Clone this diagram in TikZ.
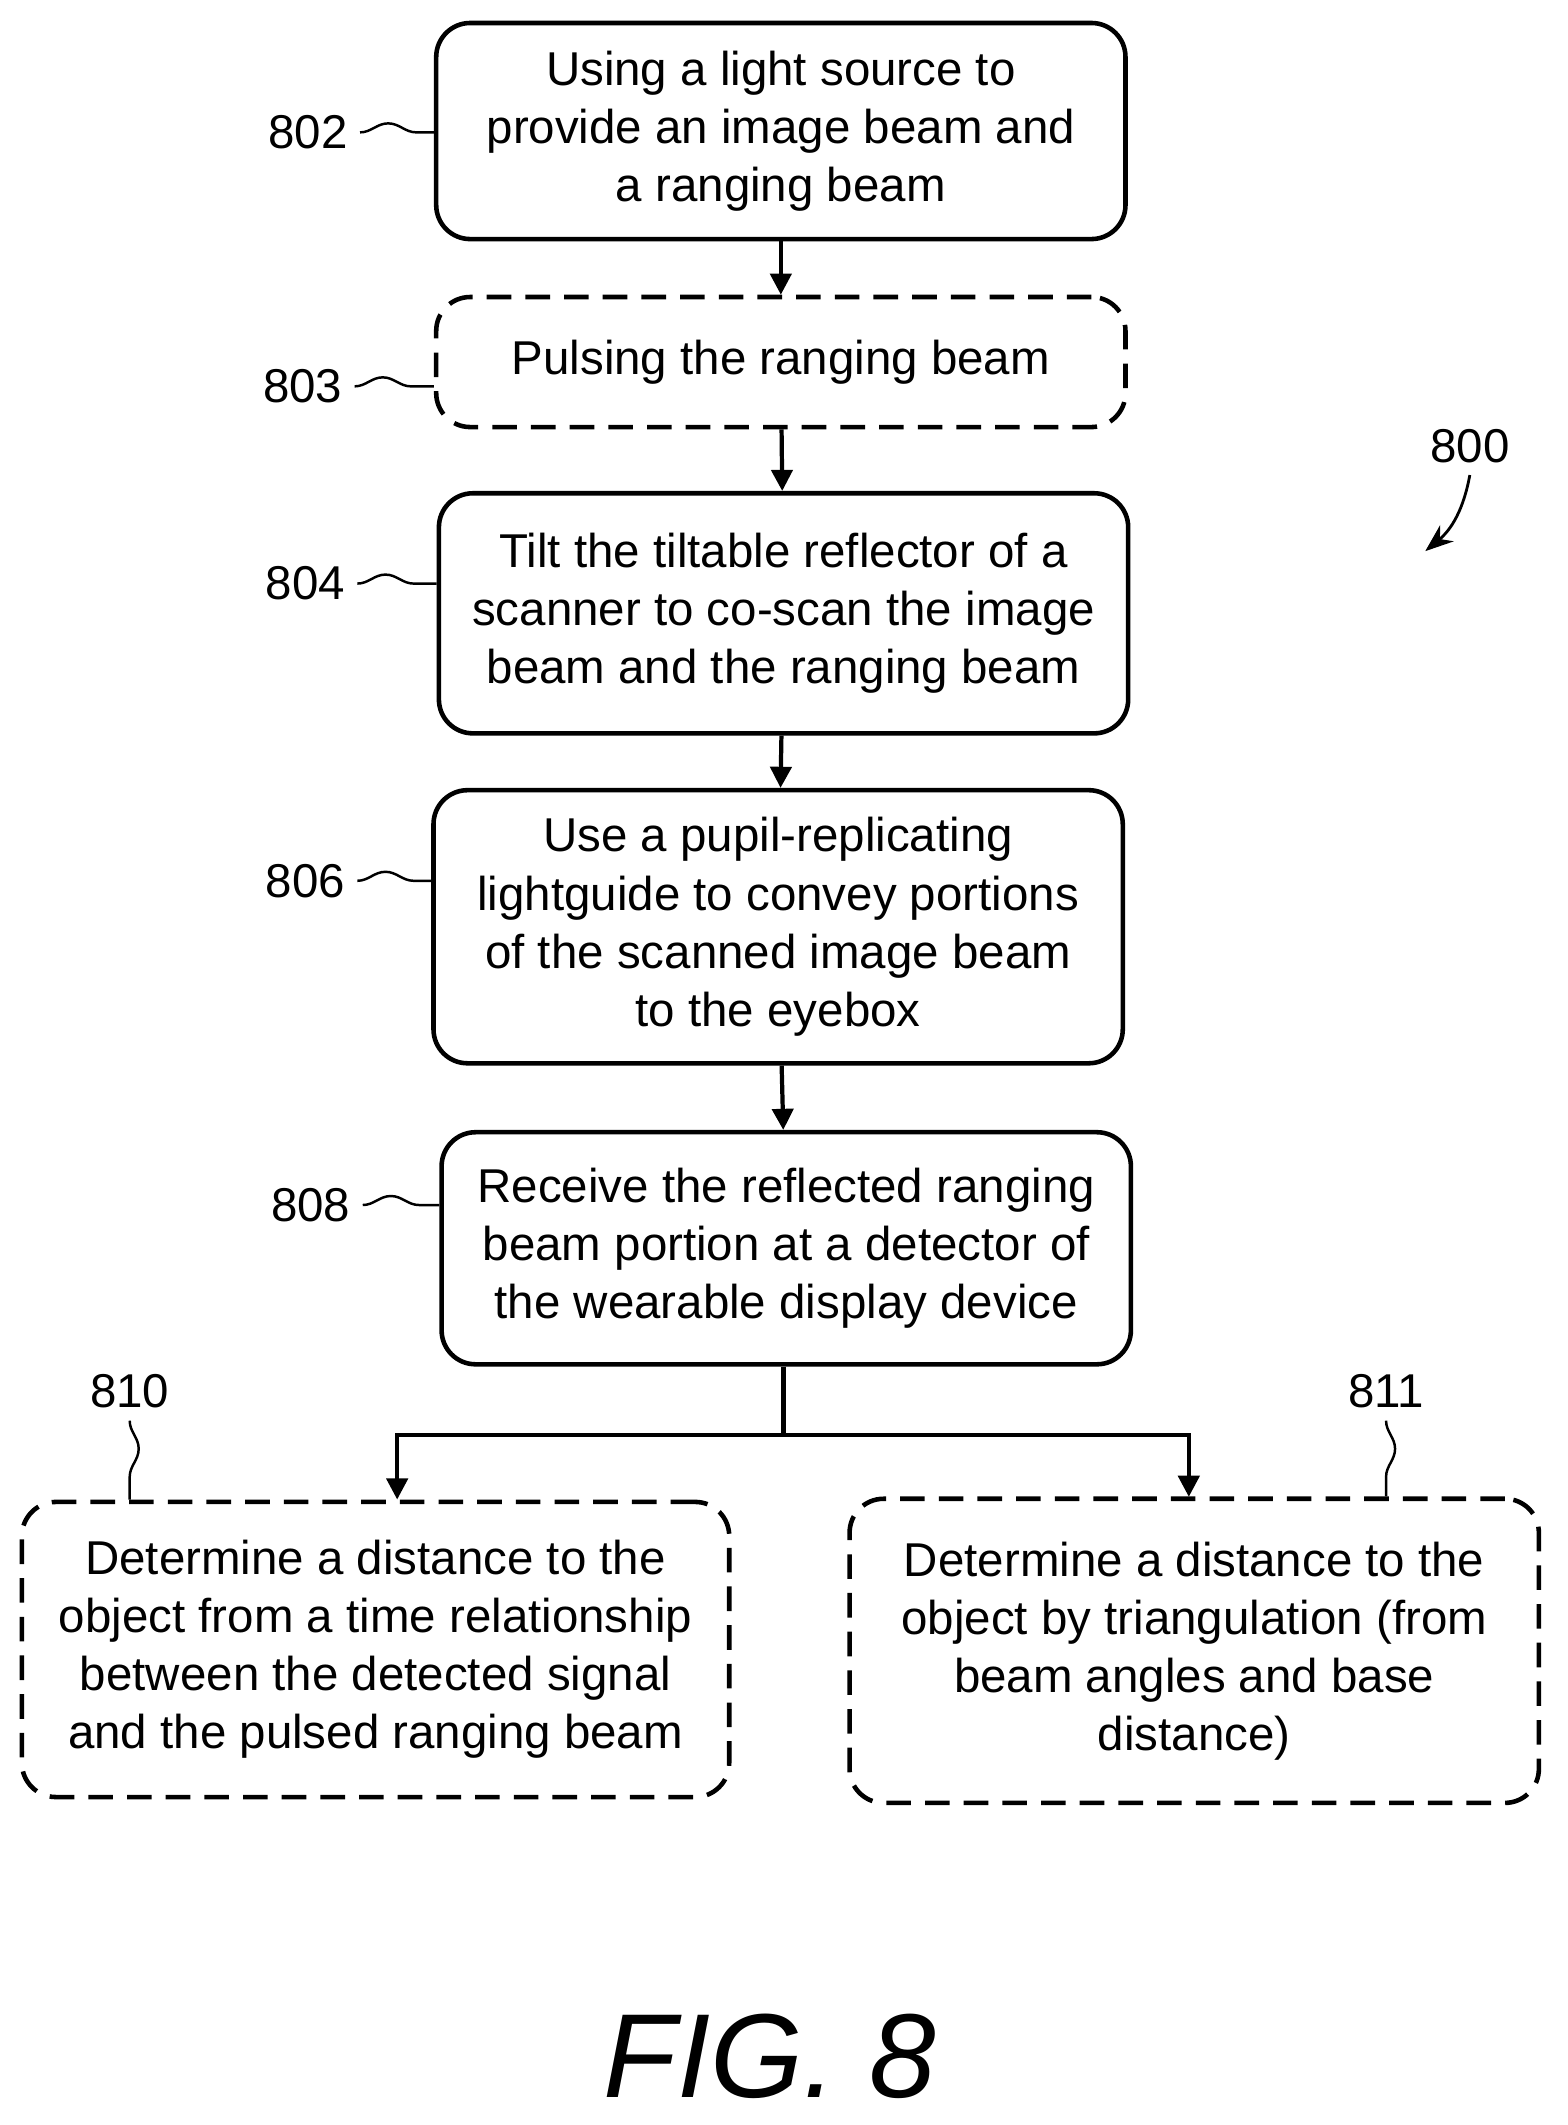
\documentclass[tikz,border=0pt]{standalone}
\usepackage{fontspec}
\setmainfont{Liberation Sans}
\usetikzlibrary{positioning, arrows.meta, decorations.pathmorphing}
\tikzset{
	stepbox/.style={draw, line width=1.3pt, rounded corners=0.34cm, align=center,
		font=\fontsize{13.5}{16.5}\selectfont, inner sep=2pt},
	optional/.style={stepbox, dashed, dash pattern=on 7pt off 4pt},
	flow/.style={-{Triangle[length=6pt,width=6pt]}, line width=1.2pt},
	squig/.style={line width=0.7pt, decorate, decoration={snake, amplitude=0.9mm, segment length=0.9cm}},
	ref/.style={font=\fontsize{13.5}{16.5}\selectfont}
}
\begin{document}
\begin{tikzpicture}[x=0.01351cm, y=-0.01351cm]
	\useasboundingbox (0,0) rectangle (1160,1573);
	
	\node[stepbox, minimum width=6.89cm, minimum height=2.16cm] (s802) at (578,97)
		{Using a light source to\\provide an image beam and\\a ranging beam};
	\node[optional, minimum width=6.89cm, minimum height=1.3cm] (s803) at (578,268)
		{Pulsing the ranging beam};
	\node[stepbox, minimum width=6.89cm, minimum height=2.4cm] (s804) at (580,454)
		{Tilt the tiltable reflector of a\\scanner to co-scan the image\\beam and the ranging beam};
	\node[stepbox, minimum width=6.89cm, minimum height=2.73cm] (s806) at (576,686)
		{Use a pupil-replicating\\lightguide to convey portions\\of the scanned image beam\\to the eyebox};
	\node[stepbox, minimum width=6.89cm, minimum height=2.32cm] (s808) at (582,924)
		{Receive the reflected ranging\\beam portion at a detector of\\the wearable display device};
	\node[optional, minimum width=7.07cm, minimum height=2.95cm] (s810) at (278,1221)
		{Determine a distance to the\\object from a time relationship\\between the detected signal\\and the pulsed ranging beam};
	\node[optional, minimum width=6.89cm, minimum height=3.04cm] (s811) at (884,1222)
		{Determine a distance to the\\object by triangulation (from\\beam angles and base\\distance)};
	
	% reference numerals
	\node[ref] (n802) at (228,98) {802};
	\node[ref] (n803) at (224,286) {803};
	\node[ref] (n804) at (226,432) {804};
	\node[ref] (n806) at (226,652) {806};
	\node[ref] (n808) at (230,892) {808};
	\node[ref] (n810) at (96,1030) {810};
	\node[ref] (n811) at (1026,1030) {811};
	\node[ref] (n800) at (1088,330) {800};
	\node[font=\itshape\fontsize{34}{34}\selectfont] (fig) at (570,1522) {FIG. 8};
	
	\draw[squig] (n802.east) -- (s802.west |- n802.east);
	\draw[squig] (n803.east) -- (s803.west |- n803.east);
	\draw[squig] (n804.east) -- (s804.west |- n804.east);
	\draw[squig] (n806.east) -- (s806.west |- n806.east);
	\draw[squig] (n808.east) -- (s808.west |- n808.east);
	\draw[squig] (n810.south) -- (n810.south |- s810.north);
	\draw[squig] (n811.south) -- (n811.south |- s811.north);
	\draw[-{Stealth[length=8pt]}, line width=0.8pt] (n800.south) to[bend left=20] (1055,408);
	
	% flow
	\draw[flow] (s802) -- (s803);
	\draw[flow] (s803) -- (s804);
	\draw[flow] (s804) -- (s806);
	\draw[flow] (s806) -- (s808);
	\coordinate (split) at (580,1062);
	\draw[line width=1.2pt] (s808.south -| split) -- (split);
	\draw[flow] (split) -| (294,1110);
	\draw[flow] (split) -| (880,1108);
\end{tikzpicture}
\end{document}
